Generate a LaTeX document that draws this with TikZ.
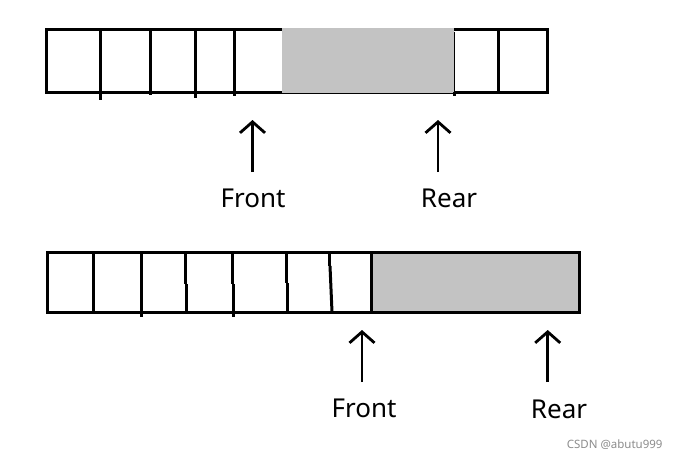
\documentclass[tikz,border=0pt]{standalone}
\usepackage{fontspec}
\setmainfont{Noto Sans}
\usetikzlibrary{arrows.meta}
\definecolor{cellgray}{RGB}{195,195,195}
\definecolor{markgray}{RGB}{140,140,140}
\begin{document}
\begin{tikzpicture}[x=1pt,y=-1pt,line width=3pt,
  lbl/.style={font=\fontsize{26}{30}\selectfont,anchor=base,inner sep=0pt},
  ptr/.style={line width=2.6pt,-{Straight Barb[length=11pt,width=25pt,line width=2.8pt]}},
  wm/.style={font=\fontsize{11.5}{13}\selectfont,text=markgray,anchor=base east,inner sep=0pt}]
\useasboundingbox[fill=white] (0,0) rectangle (678,459);
% ---- top array ----
\draw (46,29.7) rectangle (547.3,92);
\draw (100,29.7) -- (100,100);
\draw (150,29.7) -- (150,95);
\draw (195,29.7) -- (195,98);
\draw (234,29.7) -- (234,96);
\draw (498.3,29.7) -- (498.3,92);
\fill[cellgray] (282,27.5) rectangle (453.5,93);
\draw[line width=1pt] (454,31.5) -- (454,93);
\draw (454,92) -- (454,95.5);
% ---- bottom array ----
\fill[cellgray] (371.7,252.3) rectangle (579,312);
\draw (47.5,252.3) rectangle (579,312);
\draw (371.7,252.3) -- (371.7,312);
\draw (93.3,252.3) -- (93.3,312);
\draw (141.7,252.3) -- (141.7,317);
\draw (185,252.3) -- (185,284);
\draw (186.7,284) -- (186.7,312);
\draw (232.7,252.3) -- (232.7,284);
\draw (233.5,284) -- (233.5,317);
\draw (286,252.3) -- (286,283);
\draw (287.7,283) -- (287.7,312);
\draw (329.3,252.3) -- (329.3,266);
\draw (330,266) -- (332,312);
% ---- pointers and labels ----
\node[lbl] (front1) at (253,207) {Front};
\node[lbl] (rear1) at (449,207.5) {Rear};
\node[lbl] (front2) at (364,417) {Front};
\node[lbl] (rear2) at (559,418) {Rear};
\coordinate (f1s) at (252.5,172);
\coordinate (f1e) at (252.5,120);
\coordinate (r1s) at (438,172);
\coordinate (r1e) at (438,120);
\coordinate (f2s) at (362,382);
\coordinate (f2e) at (362,330);
\coordinate (r2s) at (547.7,382);
\coordinate (r2e) at (547.7,330);
\draw[ptr] (f1s) -- (f1e);
\draw[ptr] (r1s) -- (r1e);
\draw[ptr] (f2s) -- (f2e);
\draw[ptr] (r2s) -- (r2e);
\node[wm] (mark) at (664,448) {CSDN @abutu999};
\end{tikzpicture}
\end{document}
